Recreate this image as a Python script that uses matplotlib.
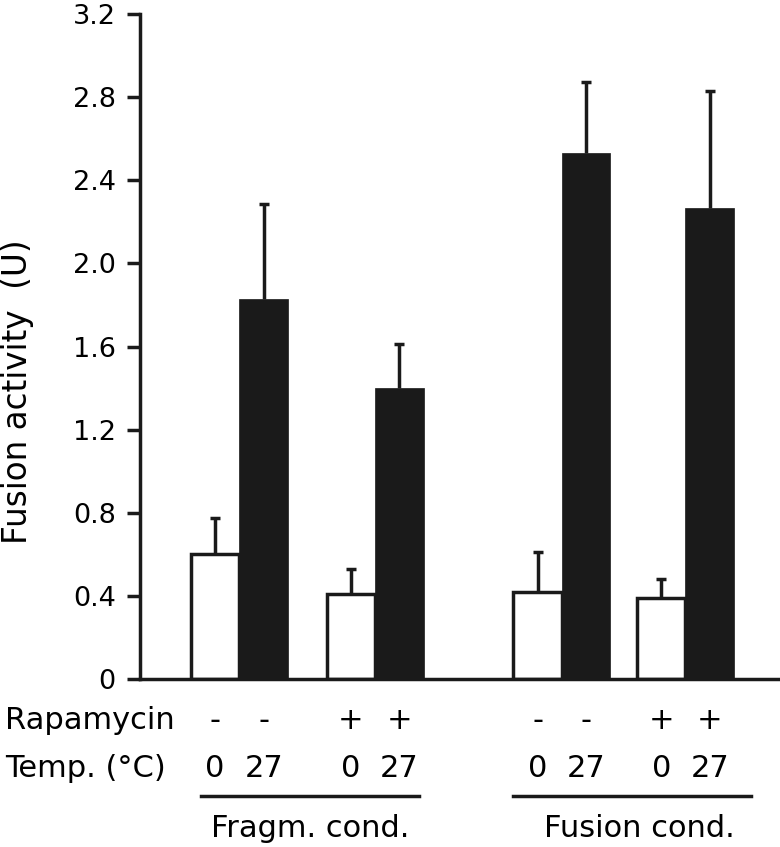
import matplotlib
matplotlib.use("Agg")
import matplotlib.pyplot as plt
from matplotlib.lines import Line2D
import matplotlib.transforms as mtransforms

# Data
group_names = ["Fragm. cond.", "Fusion cond."]
rapamycin = ["-", "-", "+", "+", "-", "-", "+", "+"]
temps = ["0", "27", "0", "27", "0", "27", "0", "27"]
values_0c = [0.60, 0.41, 0.42, 0.39]
errors_0c = [0.175, 0.12, 0.19, 0.09]
values_27c = [1.83, 1.40, 2.53, 2.265]
errors_27c = [0.455, 0.21, 0.345, 0.565]
yticks = [0, 0.4, 0.8, 1.2, 1.6, 2.0, 2.4, 2.8, 3.2]
ytick_labels = ["0", "0.4", "0.8", "1.2", "1.6", "2.0", "2.4", "2.8", "3.2"]

# layout (bar units)
pair_pos = [1.55, 4.35, 8.2, 10.75]
bar_w = 1.0
underlines = [(1.25, 5.75), (7.7, 12.6)]
group_label_x = [3.5, 10.3]

plt.rcParams['font.family'] = ['DejaVu Sans']

fig = plt.figure(figsize=(7.8, 8.47), dpi=100)
ax = fig.add_axes([0.1795, 0.1983, 0.8205, 0.7852])

black = '#1a1a1a'
lw = 2.5
x_white = pair_pos
x_black = [p + bar_w for p in pair_pos]

# error bars (upper only), drawn under the bars, caps only on top
for xs, vals, errs in [(x_white, values_0c, errors_0c), (x_black, values_27c, errors_27c)]:
    ax.errorbar(xs, vals, yerr=[[0] * len(errs), errs], fmt='none',
                ecolor=black, elinewidth=lw, capsize=0, zorder=1)
    ax.plot(xs, [v + e for v, e in zip(vals, errs)], ls='none', marker='_',
            markersize=6.5, markeredgewidth=lw, color=black, zorder=1)

ax.bar(x_white, values_0c, width=bar_w, color='white', edgecolor=black,
       linewidth=lw, zorder=2)
ax.bar(x_black, values_27c, width=bar_w, color=black, edgecolor=black,
       linewidth=0.5, zorder=2)

ax.set_xlim(0, 13.2)
ax.set_ylim(0, 3.2)
ax.set_yticks(yticks)
ax.set_yticklabels(ytick_labels, fontsize=19.5)
ax.set_xticks([])
ax.tick_params(axis='y', length=9.4, width=lw, pad=8, color=black)
for s in ['top', 'right']:
    ax.spines[s].set_visible(False)
for s in ['left', 'bottom']:
    ax.spines[s].set_linewidth(lw)
    ax.spines[s].set_color(black)
    ax.spines[s].set_capstyle('projecting')

fig.text(0.022, 1 - 392 / 847, "Fusion activity  (U)", rotation=90,
         ha='center', va='center', fontsize=23.5)

# condition rows under the axis
trans = mtransforms.blended_transform_factory(ax.transData, fig.transFigure)
centers = []
for a, b in zip(x_white, x_black):
    centers += [a, b]
for c, r, t in zip(centers, rapamycin, temps):
    ax.text(c, 0.1393, r, transform=trans, ha='center', va='baseline', fontsize=22)
    ax.text(c, 0.0826, t, transform=trans, ha='center', va='baseline', fontsize=22)
fig.text(0.0064, 0.1393, "Rapamycin", ha='left', va='baseline', fontsize=22)
fig.text(0.0064, 0.0826, "Temp. (°C)", ha='left', va='baseline', fontsize=22)

for (x0, x1), gx, name in zip(underlines, group_label_x, group_names):
    ax.add_line(Line2D([x0, x1], [0.0602, 0.0602], transform=trans, color=black,
                       linewidth=lw, clip_on=False))
    ax.text(gx, 0.0118, name, transform=trans, ha='center', va='baseline', fontsize=22)

fig.savefig("out.png", dpi=100)
